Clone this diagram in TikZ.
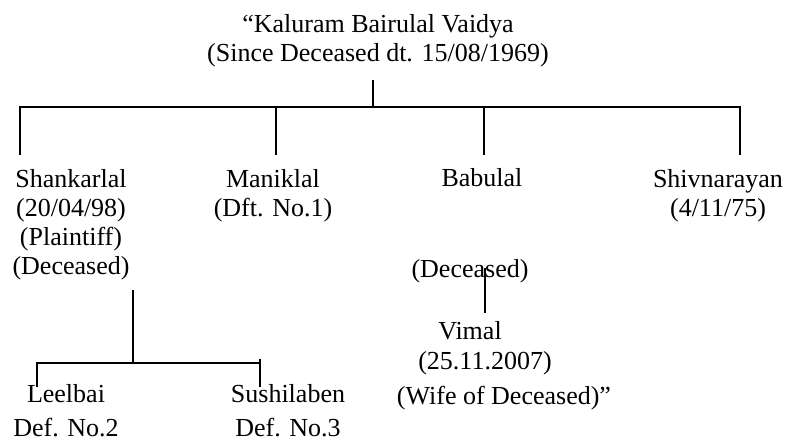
\documentclass[tikz,border=0pt]{standalone}
\usepackage{fontspec}
\setmainfont{Liberation Serif}
\begin{document}
\begin{tikzpicture}[x=1pt,y=-1pt]
  \tikzstyle{person} = [inner sep=0pt, anchor=base, align=center, font=\fontsize{26}{29}\selectfont]
  \tikzstyle{child} = [person, font=\fontsize{26}{34}\selectfont]
  \tikzstyle{bar} = [line width=2.2pt]
  \tikzstyle{wire} = [line width=1.4pt]
  \useasboundingbox (0,0) rectangle (793,441);
  % family members (base = last line)
  \node[person] (kaluram) at (378,62) {“Kaluram Bairulal Vaidya\\(Since Deceased dt. 15/08/1969)};
  \node[person] (shankarlal) at (71,274) {Shankarlal\\(20/04/98)\\(Plaintiff)\\(Deceased)};
  \node[person] (maniklal) at (273,216) {Maniklal\\(Dft. No.1)};
  \node[person] (babulal) at (482,186) {Babulal};
  \node[person] (shivnarayan) at (718,216) {Shivnarayan\\(4/11/75)};
  \node[person] (babulal-dec) at (470,277) {(Deceased)};
  \node[person] (vimal) at (470,339) {Vimal};
  \node[person] (vimal-date) at (485,369) {(25.11.2007)};
  \node[person] (vimal-note) at (504,404) {(Wife of Deceased)”};
  \node[child] (leelbai) at (66,436) {Leelbai\\Def. No.2};
  \node[child] (sushilaben) at (288,436) {Sushilaben\\Def. No.3};
  % junctions
  \coordinate (k-stem) at (373,80);
  \coordinate (k-bar) at (373,107);
  \foreach \name/\x in {shankarlal/20, maniklal/276, babulal/484, shivnarayan/740}
    \coordinate (\name-drop) at (\x,155);
  \coordinate (s-stem) at (133,290);
  \coordinate (s-bar) at (133,363);
  \coordinate (leelbai-drop) at (37,387);
  \coordinate (sushilaben-drop) at (260,387);
  \coordinate (b-stem) at (485,268);
  \coordinate (vimal-drop) at (485,313);
  % lines
  \draw[wire] (k-stem) -- (k-bar);
  \draw[bar] (shankarlal-drop |- k-bar) -- (shivnarayan-drop |- k-bar);
  \foreach \name in {shankarlal, maniklal, babulal, shivnarayan}
    \draw[wire] (k-bar) -| (\name-drop);
  \draw[wire] (s-stem) -- (s-bar);
  \draw[wire] (s-bar) -| (leelbai-drop);
  \draw[wire] (s-bar) -| (sushilaben-drop);
  \draw[wire] (sushilaben-drop) -- ++(0,-28);
  \draw[wire] (b-stem) -- (vimal-drop);
\end{tikzpicture}
\end{document}
